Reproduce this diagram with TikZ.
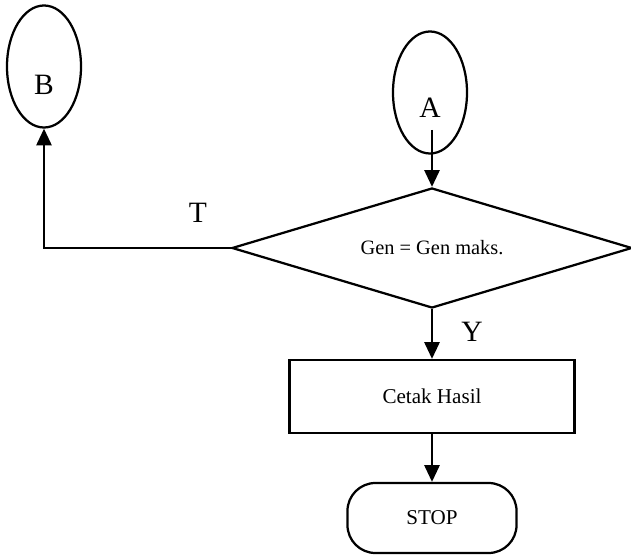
\documentclass[tikz,border=0pt]{standalone}
\usepackage{fontspec}
\setmainfont{Liberation Serif}
\usetikzlibrary{positioning,arrows.meta,shapes.geometric}

\begin{document}
\begin{tikzpicture}[x=0.025cm,y=-0.025cm,>={Triangle[length=4.2mm,width=3.8mm]},line width=1.6pt,
  conn/.style={draw,ellipse,inner sep=0pt,minimum width=1.85cm,minimum height=3.05cm},
  decide/.style={draw,diamond,inner sep=0pt,aspect=3.3,minimum width=10cm,minimum height=3cm,font=\fontsize{14.5}{16}\selectfont},
  proc/.style={draw,rectangle,minimum width=7.125cm,minimum height=1.825cm,font=\fontsize{15}{17}\selectfont},
  term/.style={draw,rectangle,rounded corners=0.7cm,minimum width=4.225cm,minimum height=1.75cm,font=\fontsize{15}{17}\selectfont},
  tag/.style={font=\fontsize{21}{24}\selectfont}]
\useasboundingbox (0,0) rectangle (631,556);
\node[conn,label={[tag,yshift=-0.45cm]center:B}] (conB) at (44,66.5) {};
\node[conn,label={[tag,yshift=-0.39cm]center:A}] (conA) at (430,92.5) {};
\coordinate (outA) at (432,130);
\node[decide] (gen) at (432,248) {Gen = Gen maks.};
\node[proc] (cetak) at (432,396.5) {Cetak Hasil};
\node[term] (stop) at (432,518) {STOP};
\draw[->] (outA) -- (gen.north);
\draw[->] (gen.west) -| (conB.south);
\draw[->] (gen.south) -- (cetak.north);
\draw[->] (cetak.south) -- (stop.north);
\node[tag] (lblT) at (198,212.5) {T};
\node[tag] (lblY) at (472,332) {Y};
\end{tikzpicture}
\end{document}
